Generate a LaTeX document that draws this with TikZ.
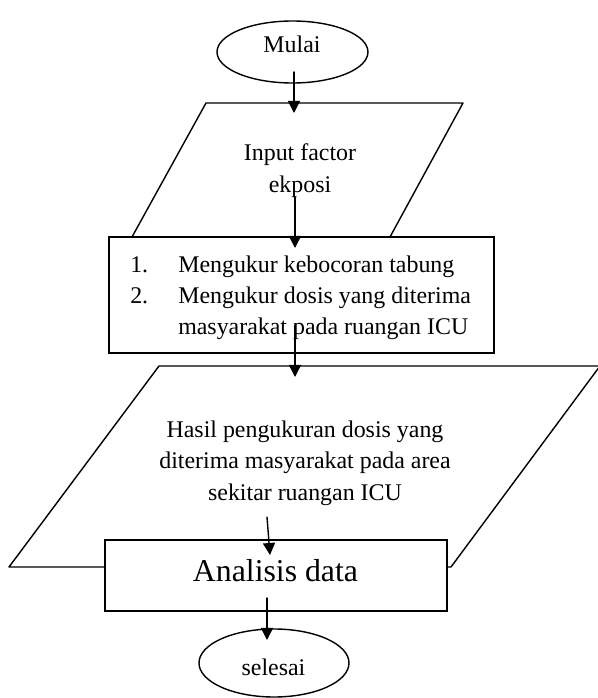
\documentclass[tikz,border=0pt]{standalone}
\usepackage{fontspec}
\setmainfont{Liberation Serif}
\usepackage{tkz-euclide}
\usetikzlibrary{shapes.geometric,arrows.meta}

\tikzset{
  flecha/.style={-{Triangle[width=3mm,length=3mm]},line width=1pt},
  terminal/.style={draw,ellipse,line width=1pt,inner sep=0pt},
  proceso/.style={draw,fill=white,line width=1pt,inner sep=0pt},
  texto/.style={font=\fontsize{17}{22.4}\selectfont,align=center,inner sep=0pt}
}

\begin{document}
\begin{tikzpicture}
        \useasboundingbox (0,0) rectangle (14.95,17.45);

        % Paso 1: Define las esquinas de los paralelogramos
        \tkzDefPoint(5.15,14.875){A}
        \tkzDefPoint(11.575,14.875){B}
        \tkzDefPoint(9.75,11.525){C}
        \tkzDefPoint(3.30,11.525){D}
        \tkzDefPoint(3.975,8.3){E}
        \tkzDefPoint(15.0,8.3){F}
        \tkzDefPoint(11.275,3.275){G}
        \tkzDefPoint(0.225,3.275){H}

        % Paso 2: Define los extremos de las flechas
        \tkzDefPoint(7.35,15.65){a1}
        \tkzDefPoint(7.35,14.625){b1}
        \tkzDefPoint(7.375,12.525){a2}
        \tkzDefPoint(7.375,11.25){b2}
        \tkzDefPoint(7.375,9.325){a3}
        \tkzDefPoint(7.375,8.025){b3}
        \tkzDefPoint(6.675,4.525){a4}
        \tkzDefPoint(6.75,3.575){b4}
        \tkzDefPoint(6.675,2.5){a5}
        \tkzDefPoint(6.675,1.45){b5}

        % Paso 3: Dibuja los paralelogramos de entrada y salida
        \tkzDrawPolygon[line width=1pt](A,B,C,D)
        \tkzDrawPolygon[line width=1pt](E,F,G,H)

        % Paso 4: Dibuja el inicio y el fin
        \node (mulai) [terminal,minimum width=3.775cm,minimum height=1.55cm] at (7.3125,16.15) {};
        \node (selesai) [terminal,minimum width=3.75cm,minimum height=1.7cm] at (6.85,0.875) {};
        \node (tmulai) [texto,anchor=base] at (7.3,16.125) {Mulai};
        \node (tselesai) [texto,anchor=base] at (6.8375,0.575) {selesai};

        % Paso 5: Dibuja los procesos
        \node (ukur) [proceso,minimum width=9.625cm,minimum height=2.9cm] at (7.5375,10.075) {};
        \node (analisis) [proceso,minimum width=8.55cm,minimum height=1.775cm] at (6.9,3.0625) {};

        % Paso 6: Agrega los textos
        \node (input) [texto] at (7.5,13.19) {Input factor\\ekposi};
        \node (tukur) [texto,anchor=west] at (3.25,10.02) {%
          \begin{tabular}{@{}p{1.2cm}@{}l@{}}
            1. & Mengukur kebocoran tabung\\
            2. & Mengukur dosis yang diterima\\
               & masyarakat pada ruangan ICU
          \end{tabular}};
        \node (hasil) [texto] at (7.625,5.875) {Hasil pengukuran dosis yang\\diterima masyarakat pada area\\sekitar ruangan ICU};
        \node (tanalisis) [texto,font=\fontsize{22.6}{27}\selectfont,anchor=base] at (6.8875,2.9) {Analisis data};

        % Paso 7: Dibuja las flechas
        \tkzDrawSegments[flecha](a1,b1 a2,b2 a3,b3 a4,b4 a5,b5)
    \end{tikzpicture}
\end{document}
